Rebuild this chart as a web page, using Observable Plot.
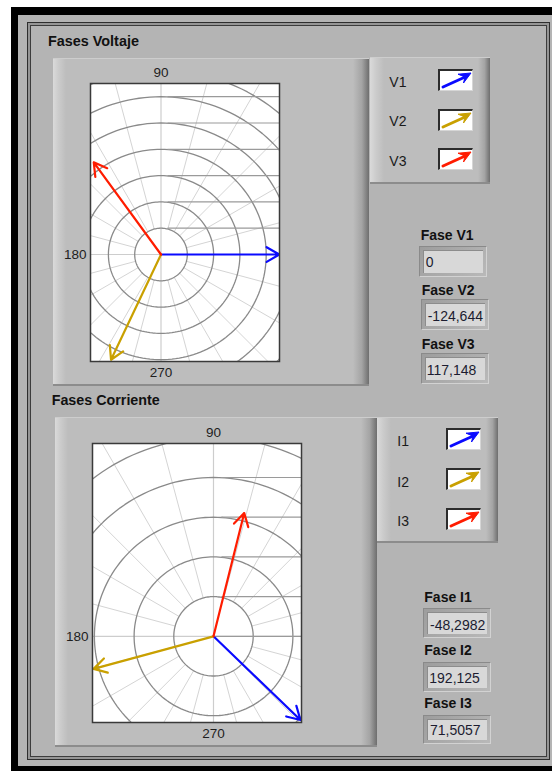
<!DOCTYPE html>
<html>
<head>
<meta charset="utf-8">
<script src="https://cdn.jsdelivr.net/npm/d3@7"></script>
<script src="https://cdn.jsdelivr.net/npm/@observablehq/plot@0.6"></script>
<style>
html,body{margin:0;padding:0;background:#fff;}
body{width:552px;height:771px;position:relative;overflow:hidden;font-family:"Liberation Sans",Arial,sans-serif;}
.abs{position:absolute;box-sizing:border-box;}
</style>
</head>
<body>
<script>
// ---------------- data ----------------
const panelTitles = ["Fases Voltaje", "Fases Corriente"];
const angleTickValues = [90, 180, 270];
const angleTickLabels = ["90", "180", "270"];
const seriesColors = ["#0a0aff", "#c9a000", "#ff1c00"];

const vSeries = ["V1", "V2", "V3"];
const vVectorAngle = [0, -115.4, 126.1];      // degrees, as drawn
const vVectorLength = [4.5, 4.43, 4.34];      // in ring units
const vPhaseLabels = ["Fase V1", "Fase V2", "Fase V3"];
const vPhaseText = ["0", "-124,644", "117,148"];
const vRings = [1, 2, 3, 4, 5, 6, 7, 8];

const iSeries = ["I1", "I2", "I3"];
const iVectorAngle = [-43.9, 195.2, 76.0];
const iVectorLength = [3.04, 3.13, 3.2];
const iPhaseLabels = ["Fase I1", "Fase I2", "Fase I3"];
const iPhaseText = ["-48,2982", "192,125", "71,5057"];
const iRings = [1, 2, 3, 4, 5, 6];

// ---------------- layout ----------------
const FONT = '"Liberation Sans", Arial, sans-serif';
const body = d3.select("body");
function div(x, y, w, h, css) {
  const d = body.append("div").attr("class", "abs")
    .style("left", x + "px").style("top", y + "px")
    .style("width", w + "px").style("height", h + "px");
  for (const k in css) d.style(k, css[k]);
  return d;
}
// outer black frame + panel
div(11, 7, 600, 800, {background: "#000"});
div(18, 15, 600, 751, {background: "#b4b4b4"});
// etched double line
div(27, 22, 523, 738, {border: "1px solid #2e2e2e", background: "#959595"});
div(30, 25, 517, 732, {border: "1px solid #3c3c3c", background: "#b4b4b4"});

function raised(x, y, w, h, bl, br) {
  div(x, y, w, h, {
    background: `linear-gradient(to right, #dadada 0px, #cbcbcb ${bl * 0.45}px, #bdbdbd ${bl}px, #bdbdbd ${w - br}px, #a4a4a4 ${w - br * 0.45}px, #6e6e6e ${w}px)`,
    "border-top": "1px solid #cdcdcd",
    "border-bottom": "2px solid #8c8c8c"
  });
}
raised(52.5, 57.5, 316, 328, 13, 16);   // V graph
raised(370, 57, 120, 127, 14, 12);      // V legend
raised(55, 416.5, 322, 330, 13, 16);    // I graph
raised(377, 417, 121, 126, 14, 12);     // I legend

// ---------------- polar plots ----------------
const rad = Math.PI / 180;
function polar(cfg) {
  const {series, angles, lengths, rings, xDomain, yDomain, frameW, frameH, left, top, lineStart} = cfg;
  const mL = 40, mT = 26, mR = 10, mB = 26;
  const vectors = series.map((s, i) => ({s, a: angles[i], r: lengths[i]}));
  const ringPts = rings.flatMap(r => d3.range(0, 361, 2).map(t => ({r, x: r * Math.cos(t * rad), y: r * Math.sin(t * rad)})));
  const spokes = d3.range(15, 360, 15).filter(t => t % 90 !== 0);
  const far = rings[rings.length - 1] * 2;
  const hLines = [0, ...rings];
  const tickStyle = {fontSize: 13.5, fill: "#1e1e1e", lineAnchor: "middle"};
  const svg = Plot.plot({
    width: mL + frameW + mR,
    height: mT + frameH + mB,
    marginLeft: mL, marginTop: mT, marginRight: mR, marginBottom: mB,
    x: {domain: xDomain, axis: null},
    y: {domain: yDomain, axis: null},
    color: {domain: series, range: seriesColors},
    style: {background: "transparent", overflow: "visible", fontFamily: FONT},
    marks: [
      Plot.frame({fill: "white", stroke: null}),
      Plot.link(spokes, {
        x1: t => rings[0] * Math.cos(t * rad), y1: t => rings[0] * Math.sin(t * rad),
        x2: t => far * Math.cos(t * rad), y2: t => far * Math.sin(t * rad),
        stroke: "#d4d4d4", strokeWidth: 1, clip: true
      }),
      Plot.ruleX([0], {stroke: "#cdcdcd", strokeWidth: 1.2, clip: true}),
      Plot.ruleY([0], {stroke: "#cdcdcd", strokeWidth: 1.2, clip: true}),
      Plot.line(ringPts, {x: "x", y: "y", z: "r", stroke: "#8a8a8a", strokeWidth: 1.3, clip: true}),
      Plot.link(hLines, {
        x1: d => d === 0 ? 0 : lineStart, x2: () => far,
        y1: d => d, y2: d => d,
        stroke: "#9a9a9a", strokeWidth: 1.2, clip: true
      }),
      Plot.arrow(vectors, {
        x1: () => 0, y1: () => 0,
        x2: d => d.r * Math.cos(d.a * rad), y2: d => d.r * Math.sin(d.a * rad),
        stroke: "s", strokeWidth: 2.2, headLength: 10, clip: true
      }),
      Plot.frame({stroke: "#3a3a3a", strokeWidth: 1.5}),
      Plot.text([angleTickValues[0]], {x: () => 0, frameAnchor: "top", dy: -10.5, text: () => angleTickLabels[0], ...tickStyle}),
      Plot.text([angleTickValues[1]], {y: () => 0, frameAnchor: "left", textAnchor: "end", dx: -4, text: () => angleTickLabels[1], ...tickStyle}),
      Plot.text([angleTickValues[2]], {x: () => 0, frameAnchor: "bottom", dy: 11.5, text: () => angleTickLabels[2], ...tickStyle})
    ]
  });
  d3.select(svg).style("position", "absolute").style("left", (left - mL) + "px").style("top", (top - mT) + "px");
  document.body.appendChild(svg);
}

polar({
  series: vSeries, angles: vVectorAngle, lengths: vVectorLength, rings: vRings,
  xDomain: [-2.681, 4.506], yDomain: [-4.068, 6.502],
  frameW: 189, frameH: 278, left: 89.5, top: 83, lineStart: 0.25
});
polar({
  series: iSeries, angles: iVectorAngle, lengths: iVectorLength, rings: iRings,
  xDomain: [-3.048, 2.217], yDomain: [-2.171, 4.857],
  frameW: 209, frameH: 279, left: 92, top: 442.5, lineStart: 0.2
});

// ---------------- legend swatches & numeric boxes ----------------
function swatch(x, y, color) {
  const s = body.append("svg").attr("class", "abs")
    .style("left", x + "px").style("top", y + "px")
    .attr("width", 35).attr("height", 22)
    .style("background", "#fff")
    .style("border-top", "2px solid #2c2c2c").style("border-left", "2px solid #2c2c2c")
    .style("border-right", "1px solid #d6d6d6").style("border-bottom", "1px solid #d6d6d6");
  s.append("line").attr("x1", 3).attr("y1", 16).attr("x2", 24).attr("y2", 6.5)
    .attr("stroke", color).attr("stroke-width", 3).attr("stroke-linecap", "round");
  s.append("polygon").attr("points", "31,2 23.5,12 25,6 18,3.2").attr("fill", color)
    .attr("stroke", color).attr("stroke-width", 1).attr("stroke-linejoin", "round");
}
[69, 108.5, 148].forEach((y, i) => swatch(438, y, seriesColors[i]));
[428.3, 468, 507.5].forEach((y, i) => swatch(446, y, seriesColors[i]));

function numBox(x, y, w, h) {
  div(x, y, w, h, {
    background: "linear-gradient(135deg, #9d9d9d, #b9b9b9)",
    "border-top": "1px solid #8a8a8a", "border-left": "1px solid #8a8a8a",
    "border-right": "1px solid #d2d2d2", "border-bottom": "1px solid #d2d2d2"
  });
  div(x + 4, y + 4, w - 8, h - 8, {background: "#d8d8d8", "border-top": "1px solid #8c8c8c", "border-left": "1px solid #8c8c8c"});
}
const vBoxes = [[419, 246, 68, 31], [421, 299, 68, 31], [421, 353, 68, 31]];
const iBoxes = [[423, 608, 68, 30], [423, 662, 68, 30], [423, 715, 68, 29]];
vBoxes.forEach(b => numBox(...b));
iBoxes.forEach(b => numBox(...b));

// ---------------- text overlay ----------------
const ov = body.append("svg").attr("class", "abs").style("left", "0px").style("top", "0px")
  .attr("width", 552).attr("height", 771).style("pointer-events", "none")
  .style("font-family", FONT);
const defs = ov.append("defs");
function t(x, y, str, size, weight, fill, ls) {
  return ov.append("text").attr("x", x).attr("y", y).attr("font-size", size)
    .attr("font-weight", weight || "normal").attr("fill", fill || "#111")
    .attr("letter-spacing", ls || 0).text(str);
}
t(48, 45.5, panelTitles[0], 14.4, "bold", "#111");
t(51.7, 405, panelTitles[1], 14.3, "bold", "#111");

[[389.3, 86.5], [389.3, 126.3], [389.3, 165.7]].forEach(([x, y], i) => t(x, y, vSeries[i], 14, "normal", "#1a1a1a"));
[[397.3, 446.3], [397.3, 486.5], [397.3, 525.5]].forEach(([x, y], i) => t(x, y, iSeries[i], 14, "normal", "#1a1a1a"));

[[420.7, 240], [421.7, 295], [421.7, 349]].forEach(([x, y], i) => t(x, y, vPhaseLabels[i], 14, "bold", "#111"));
[[424.3, 602.3], [424.3, 655], [424.3, 708.3]].forEach(([x, y], i) => t(x, y, iPhaseLabels[i], 14, "bold", "#111"));

function valueText(box, x, y, str, id) {
  const [bx, by, bw, bh] = box;
  defs.append("clipPath").attr("id", id).append("rect")
    .attr("x", bx + 5).attr("y", by + 5).attr("width", bw - 10).attr("height", bh - 10);
  t(x, y, str, 14, "normal", "#1c1c30").attr("clip-path", `url(#${id})`);
}
[[425.7, 266.5], [427.7, 320.5], [426.7, 375]].forEach(([x, y], i) => valueText(vBoxes[i], x, y, vPhaseText[i], "cv" + i));
[[430, 630], [429.3, 683.3], [430, 735]].forEach(([x, y], i) => valueText(iBoxes[i], x, y, iPhaseText[i], "ci" + i));
</script>
</body>
</html>
